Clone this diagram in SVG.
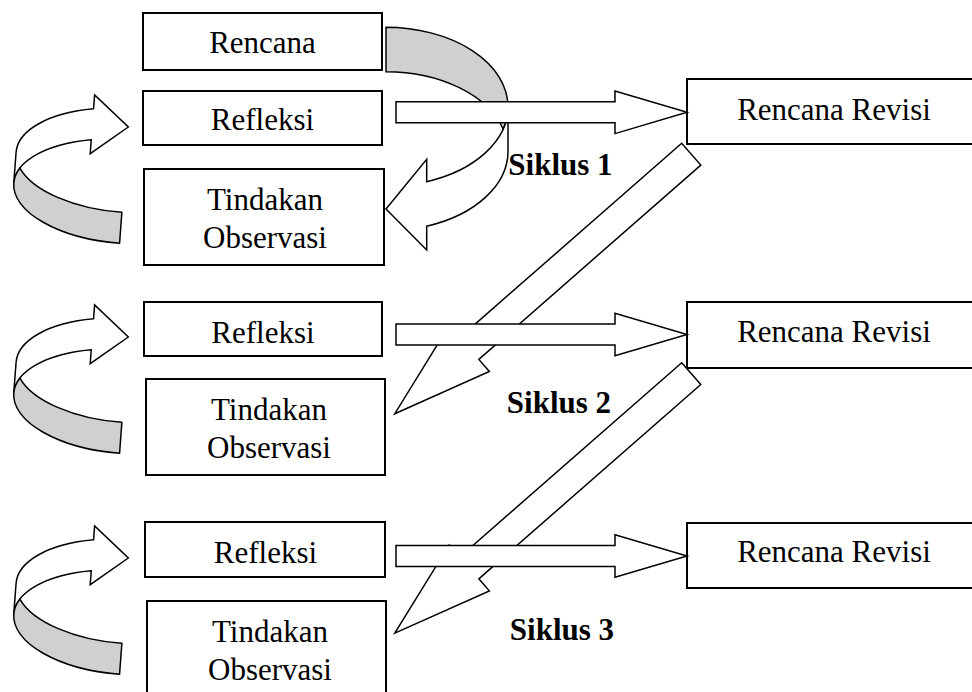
<svg xmlns="http://www.w3.org/2000/svg" xmlns:xlink="http://www.w3.org/1999/xlink" width="972" height="692" viewBox="0 0 972 692">
<style>
.box{fill:#fff;stroke:#000;stroke-width:2}
.t{font-family:"Liberation Serif","Times New Roman",serif;font-size:31px;text-anchor:middle;fill:#000}
.b{font-weight:bold}
.arw{fill:#fff;stroke:#000;stroke-width:1.5;stroke-linejoin:miter}
.back{fill:#d0d0d0;stroke:#000;stroke-width:1.5;stroke-linejoin:miter}
</style>
<defs>
<path id="harrow" d="M-291,-10.5 H-72 V-21.3 L0,0 L-72,21.3 V10.5 H-291 Z"/>
<path id="darrow" d="M0,-14.5 L295,-14.5 L295,-30.5 L394,0 L295,30.5 L295,14.5 L0,14.5 Z"/>
<g id="lcurve">
<path class="arw" d="M-110,0 A110 52 0 0 1 -36,-49.1 L-36,-35.1 L0,-64.6 L-36,-94.1 L-36,-80.1 A110 52 0 0 0 -110,-31 Z"/>
<path class="back" d="M0,52 A110 52 0 0 1 -110,0 A110 52 0 0 1 -105,-15.5 A110 52 0 0 0 0,21 Z"/>
</g>
</defs>
<rect width="972" height="692" fill="#fff"/>
<g id="rencana"><rect class="box" x="143" y="13" width="239" height="57"/><text class="t" x="262.5" y="53">Rencana</text></g>
<g id="refleksi1"><rect class="box" x="143" y="91" width="239" height="54"/><text class="t" x="262.5" y="130">Refleksi</text></g>
<g id="tindakan1"><rect class="box" x="144" y="169" width="240" height="96"/><text class="t" x="265" y="210">Tindakan</text><text class="t" x="265" y="248">Observasi</text></g>
<g id="refleksi2"><rect class="box" x="144" y="302" width="238" height="54"/><text class="t" x="263" y="342.5">Refleksi</text></g>
<g id="tindakan2"><rect class="box" x="146" y="379" width="239" height="96"/><text class="t" x="269" y="420">Tindakan</text><text class="t" x="269" y="458">Observasi</text></g>
<g id="refleksi3"><rect class="box" x="145" y="522" width="240" height="55"/><text class="t" x="265.5" y="563">Refleksi</text></g>
<g id="tindakan3"><rect class="box" x="147" y="601" width="239" height="100"/><text class="t" x="270" y="642">Tindakan</text><text class="t" x="270" y="680">Observasi</text></g>
<g id="revisi1"><rect class="box" x="687" y="79" width="300" height="65"/><text class="t" x="834" y="120">Rencana Revisi</text></g>
<g id="revisi2"><rect class="box" x="687" y="302" width="300" height="66"/><text class="t" x="834" y="342">Rencana Revisi</text></g>
<g id="revisi3"><rect class="box" x="687" y="523" width="300" height="65"/><text class="t" x="834" y="562">Rencana Revisi</text></g>
<g id="connectors">
<g id="curve-top">
<path class="arw" d="M508,106.8 A122 79.5 0 0 1 426.7,181.7 L426.7,159.3 L386,209 L426.7,250 L426.7,226.2 A122 79.5 0 0 0 508,151.2 Z"/>
<path class="back" d="M386,27.3 A122 79.5 0 0 1 508,106.8 A122 79.5 0 0 1 503.15,129 A122 79.5 0 0 0 386,71.7 Z"/>
</g>
<use xlink:href="#lcurve" transform="translate(128.3 127) rotate(4.3) translate(0 64.6)"/>
<use xlink:href="#lcurve" transform="translate(128.3 337) rotate(4.3) translate(0 64.6)"/>
<use xlink:href="#lcurve" transform="translate(128.3 558) rotate(4.3) translate(0 64.6)"/>
<use xlink:href="#darrow" class="arw" transform="translate(691.25 154.2) rotate(138.8)"/>
<use xlink:href="#darrow" class="arw" transform="translate(691.25 373.6) rotate(138.8)"/>
<use xlink:href="#harrow" class="arw" transform="translate(687 112.3)"/>
<use xlink:href="#harrow" class="arw" transform="translate(687 334.5)"/>
<use xlink:href="#harrow" class="arw" transform="translate(687 556)"/>
</g>
<g id="labels">
<text class="t b" x="560.5" y="175">Siklus 1</text>
<text class="t b" x="559" y="413">Siklus 2</text>
<text class="t b" x="562" y="640">Siklus 3</text>
</g>
</svg>
